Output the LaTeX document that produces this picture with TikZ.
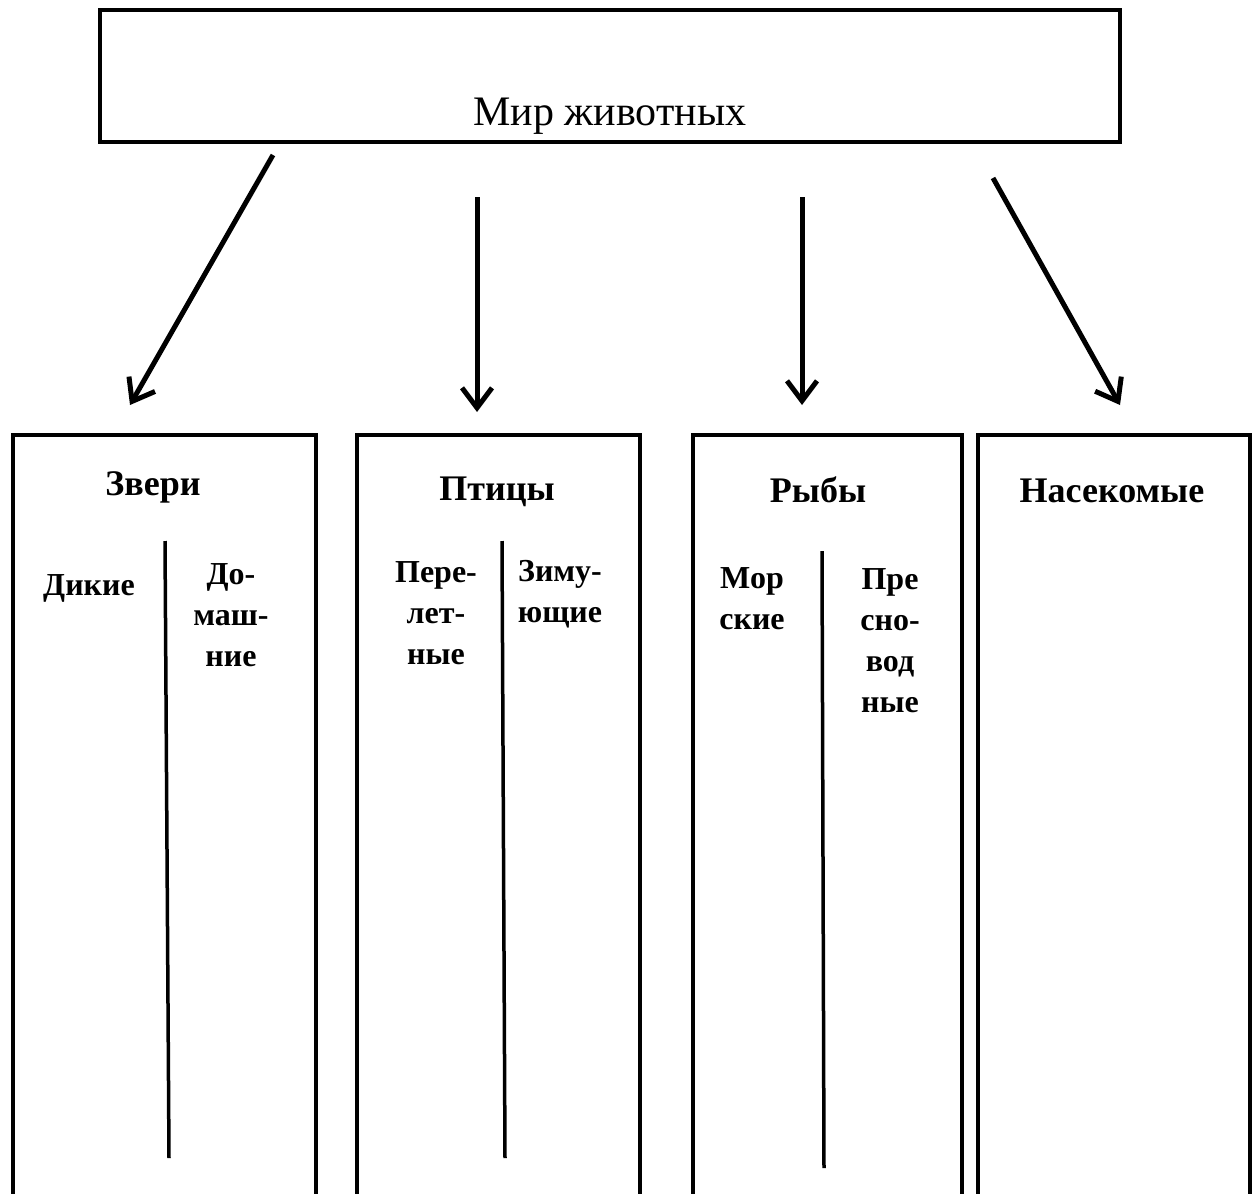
\documentclass[tikz,border=0pt]{standalone}
\usepackage{fontspec}
\setmainfont{Liberation Serif}
\usetikzlibrary{arrows.meta}
\begin{document}
\begin{tikzpicture}[x=1pt,y=-1pt,
  frame/.style={draw, line width=4pt, inner sep=0pt, outer sep=0pt},
  arr/.style={line width=5pt, -{Straight Barb[length=20pt,width=30pt]}},
  head/.style={font=\bfseries\fontsize{36}{40}\selectfont, anchor=base, inner sep=0pt},
  sub/.style={font=\bfseries\fontsize{32}{41}\selectfont, align=center, anchor=base, inner sep=0pt},
  divider/.style={line width=3.5pt}
]
\useasboundingbox (0,0) rectangle (1256,1194);
\clip (0,0) rectangle (1256,1194);
% top box
\node[frame, minimum width=1020pt, minimum height=132pt] (top) at (610,76) {};
\node[anchor=base, inner sep=0pt, font=\fontsize{42}{46}\selectfont] (title) at (610,125) {Мир животных};
% category boxes (open at the bottom, extend past the page)
\node[frame, minimum width=303pt, minimum height=825pt] (b1) at (164.5,847.5) {};
\node[frame, minimum width=283pt, minimum height=825pt] (b2) at (498.5,847.5) {};
\node[frame, minimum width=269pt, minimum height=825pt] (b3) at (827.5,847.5) {};
\node[frame, minimum width=272pt, minimum height=825pt] (b4) at (1114,847.5) {};
% headings
\node[head] (h1) at (153,495) {Звери};
\node[head] (h2) at (497,500) {Птицы};
\node[head] (h3) at (818,502) {Рыбы};
\node[head] (h4) at (1112,502) {Насекомые};
% sub labels (anchor = baseline of the last line)
\node[sub] (s1a) at (89,595) {Дикие};
\node[sub] (s1b) at (231,666) {До-\\маш-\\ние};
\node[sub] (s2a) at (436,664) {Пере-\\лет-\\ные};
\node[sub] (s2b) at (560,622) {Зиму-\\ющие};
\node[sub] (s3a) at (752,629) {Мор\\ские};
\node[sub] (s3b) at (890,712) {Пре\\сно-\\вод\\ные};
% dividers
\coordinate (d1t) at (165,541); \coordinate (d1b) at (169,1158);
\coordinate (d2t) at (502,541); \coordinate (d2b) at (505,1158);
\coordinate (d3t) at (822,551); \coordinate (d3b) at (824,1168);
\draw[divider] (d1t) -- (d1b);
\draw[divider] (d2t) -- (d2b);
\draw[divider] (d3t) -- (d3b);
% arrows
\coordinate (a1s) at (273,155); \coordinate (a1e) at (130,405);
\coordinate (a2s) at (477,197); \coordinate (a2e) at (477,412);
\coordinate (a3s) at (802,197); \coordinate (a3e) at (802,405);
\coordinate (a4s) at (993,178); \coordinate (a4e) at (1120,405);
\draw[arr] (a1s) -- (a1e);
\draw[arr] (a2s) -- (a2e);
\draw[arr] (a3s) -- (a3e);
\draw[arr] (a4s) -- (a4e);
\end{tikzpicture}
\end{document}
